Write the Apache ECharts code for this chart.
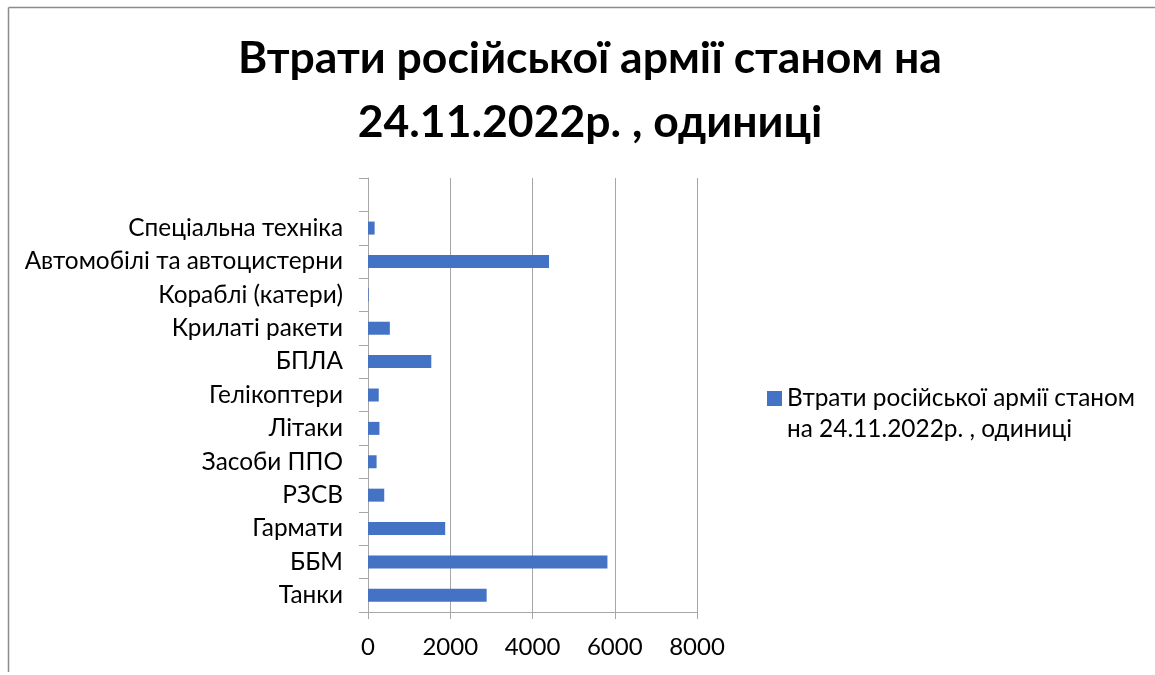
<!DOCTYPE html>
<html><head><meta charset="utf-8">
<script src="https://cdn.jsdelivr.net/npm/echarts@6/dist/echarts.min.js"></script>
<style>html,body{margin:0;padding:0;background:#fff}#c{width:1155px;height:675px}</style>
</head><body><div id="c"></div>
<script>
const titleText = 'Втрати російської армії станом на\n24.11.2022р. , одиниці';
const seriesName = 'Втрати російської армії станом на 24.11.2022р. , одиниці';
const legendLabel = 'Втрати російської армії станом\nна 24.11.2022р. , одиниці';
const categories = ['Танки','ББМ','Гармати','РЗСВ','Засоби ППО','Літаки','Гелікоптери','БПЛА','Крилаті ракети','Кораблі (катери)','Автомобілі та автоцистерни','Спеціальна техніка',''];
const values = [2885, 5822, 1877, 395, 209, 278, 261, 1539, 531, 16, 4402, 161, null];
const xTicks = { min: 0, max: 8000, interval: 2000 };
const FONT = 'Lato';
const chart = echarts.init(document.getElementById('c'), null, {renderer:'canvas'});
chart.setOption({
  backgroundColor:'#fff',
  animation:false,
  title:{text:titleText,left:585,textAlign:'center',top:22,textStyle:{fontFamily:FONT,fontWeight:'bold',fontSize:44.5,lineHeight:64,color:'#000'}},
  legend:{show:true,orient:'vertical',left:767,top:383,padding:0,icon:'path://M0,0L15,0L15,15L0,15Z M0,46L0.01,46',itemWidth:15,itemHeight:46,itemGap:0,
    formatter:()=>legendLabel,
    textStyle:{fontFamily:FONT,fontSize:24.4,lineHeight:31,color:'#000'}},
  grid:{left:368,right:458,top:178,bottom:63,containLabel:false},
  xAxis:{type:'value',min:xTicks.min,max:xTicks.max,interval:xTicks.interval,
    axisLine:{show:true,lineStyle:{color:'#a6a6a6',width:1}},
    axisTick:{show:true,length:7,lineStyle:{color:'#a6a6a6'}},
    splitLine:{show:true,lineStyle:{color:'#a6a6a6',width:1}},
    axisLabel:{fontFamily:FONT,fontSize:24,color:'#000',margin:23,formatter:v=>String(v)}},
  yAxis:{type:'category',data:categories,
    axisLine:{show:true,onZero:false,lineStyle:{color:'#a6a6a6',width:1}},
    axisTick:{show:true,length:9,lineStyle:{color:'#a6a6a6'}},
    axisLabel:{fontFamily:FONT,fontSize:24.4,color:'#000',margin:25}},
  series:[{name:seriesName,type:'bar',data:values,barWidth:13,itemStyle:{color:'#4472C4'}}],
  graphic:[
    {type:'line',shape:{x1:8.5,y1:7.5,x2:1155,y2:7.5},style:{stroke:'#8c8c8c',lineWidth:1.5}},
    {type:'line',shape:{x1:8.5,y1:7.5,x2:8.5,y2:672},style:{stroke:'#8c8c8c',lineWidth:1.5}}
  ]
});
</script></body></html>
